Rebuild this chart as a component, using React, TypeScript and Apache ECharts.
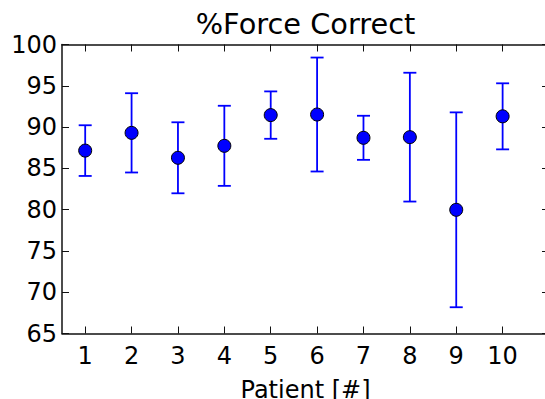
import React, { useEffect, useRef } from "react";
import * as echarts from "echarts";

const patients = [1, 2, 3, 4, 5, 6, 7, 8, 9, 10];
const meanValues = [87.15, 89.3, 86.28, 87.73, 91.45, 91.52, 88.7, 88.78, 79.98, 91.3];
const errorValues = [3.07, 4.8, 4.3, 4.85, 2.87, 6.9, 2.67, 7.8, 11.8, 4.0];
const yTicks = [65, 70, 75, 80, 85, 90, 95, 100];

const FONT = "DejaVu Sans";

export default function App() {
  const ref = useRef<HTMLDivElement>(null);
  useEffect(() => {
    if (!ref.current) return;
    const chart = echarts.init(ref.current, undefined, { renderer: "svg" });
    const pts = patients.map((p, i) => [p, meanValues[i]]);
    const errs = patients.map((p, i) => [p, meanValues[i] - errorValues[i], meanValues[i] + errorValues[i]]);
    const axisLine = { show: true, lineStyle: { color: "#111", width: 1.5 } };
    const tickStyle = { inside: true, length: 7, lineStyle: { color: "#111", width: 1 } };
    chart.setOption({
      animation: false,
      backgroundColor: "#fff",
      graphic: [
        {
          type: "text",
          x: 305.5,
          y: 24,
          style: {
            text: "%Force Correct",
            font: `28.8px "${FONT}"`,
            fill: "#000",
            align: "center",
            verticalAlign: "middle",
          },
        },
      ],
      grid: { left: 62, top: 44.5, width: 487, height: 289, containLabel: false, outerBoundsMode: "none" },
      xAxis: [
        {
          type: "value",
          min: 0.5,
          max: 11,
          position: "bottom",
          axisLine,
          splitLine: { show: false },
          axisTick: { ...tickStyle, customValues: patients },
          axisLabel: {
            customValues: patients,
            color: "#000",
            fontFamily: FONT,
            fontSize: 24,
            margin: 10,
          },
          name: "Patient [#]",
          nameLocation: "middle",
          nameGap: 44,
          nameTextStyle: { color: "#000", fontFamily: FONT, fontSize: 24 },
        },
        {
          type: "value",
          min: 0.5,
          max: 11,
          position: "top",
          axisLine,
          splitLine: { show: false },
          axisTick: { ...tickStyle, customValues: patients },
          axisLabel: { show: false },
        },
      ],
      yAxis: [
        {
          type: "value",
          min: 65,
          max: 100,
          interval: 5,
          position: "left",
          axisLine,
          splitLine: { show: false },
          axisTick: tickStyle,
          axisLabel: {
            customValues: yTicks,
            color: "#000",
            fontFamily: FONT,
            fontSize: 24,
            margin: 5,
          },
        },
        {
          type: "value",
          min: 65,
          max: 100,
          interval: 5,
          position: "right",
          axisLine,
          splitLine: { show: false },
          axisTick: tickStyle,
          axisLabel: { show: false },
        },
      ],
      series: [
        {
          type: "custom",
          xAxisIndex: 0,
          yAxisIndex: 0,
          data: errs,
          z: 2,
          renderItem: (params: any, api: any) => {
            const x = api.value(0);
            const lo = api.coord([x, api.value(1)]);
            const hi = api.coord([x, api.value(2)]);
            const cap = 6.5;
            const style = { stroke: "#0000ff", lineWidth: 1.8 };
            return {
              type: "group",
              children: [
                { type: "line", shape: { x1: lo[0], y1: lo[1], x2: hi[0], y2: hi[1] }, style },
                { type: "line", shape: { x1: lo[0] - cap, y1: lo[1], x2: lo[0] + cap, y2: lo[1] }, style },
                { type: "line", shape: { x1: hi[0] - cap, y1: hi[1], x2: hi[0] + cap, y2: hi[1] }, style },
              ],
            };
          },
        },
        {
          type: "scatter",
          xAxisIndex: 0,
          yAxisIndex: 0,
          data: pts,
          z: 3,
          symbol: "circle",
          symbolSize: 13,
          itemStyle: { color: "#0000ff", borderColor: "#000", borderWidth: 1, opacity: 1 },
        },
      ],
    });
    return () => chart.dispose();
  }, []);
  return (
    <div
      ref={ref}
      style={{ position: "fixed", left: 0, top: 0, width: 545, height: 399, background: "#fff" }}
    />
  );
}
